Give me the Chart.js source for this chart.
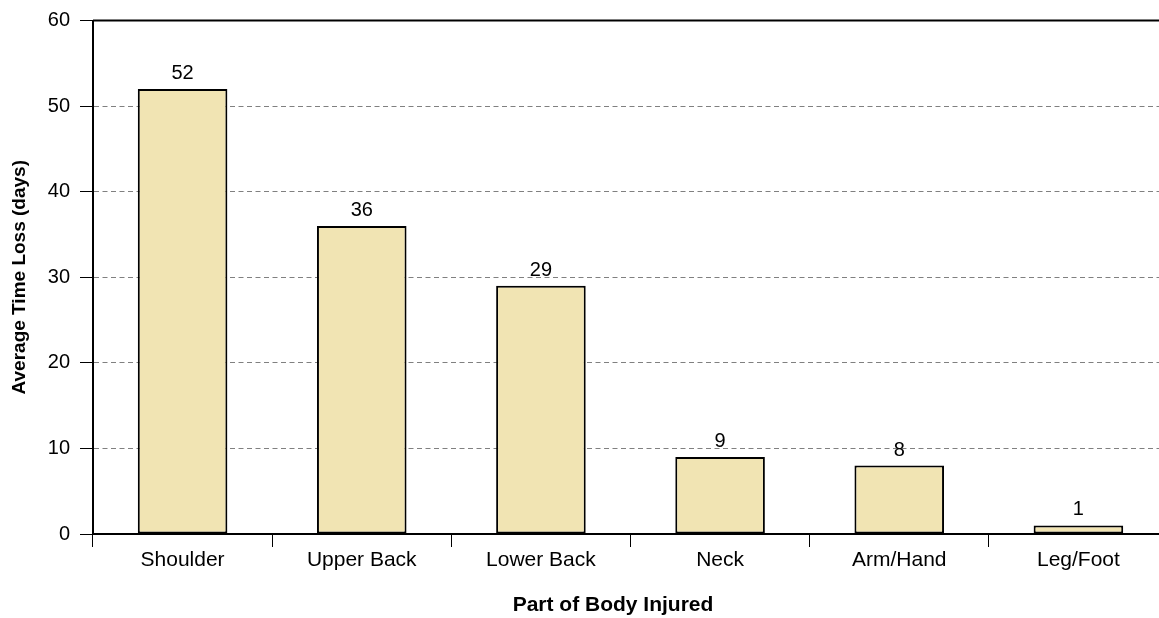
<!DOCTYPE html>
<html>
<head>
<meta charset="utf-8">
<title>Average Time Loss by Part of Body Injured</title>
<script src="https://cdn.jsdelivr.net/npm/chart.js@4.4.1/dist/chart.umd.min.js"></script>
<style>
  html, body { margin: 0; padding: 0; background: #ffffff; overflow: hidden; }
  #wrap { width: 1159px; height: 618px; overflow: hidden; position: relative; }
  #chart { display: block; }
</style>
</head>
<body>
<div id="wrap"><canvas id="chart" width="1180" height="618"></canvas></div>
<script>
// Average days lost, by injured body part
const bodyParts = ['Shoulder', 'Upper Back', 'Lower Back', 'Neck', 'Arm/Hand', 'Leg/Foot'];
const avgDaysLost = [52, 36, 29, 9, 8, 1];
const yTicks = [0, 10, 20, 30, 40, 50, 60];
const xTitle = 'Part of Body Injured';
const yTitle = 'Average Time Loss (days)';

const FONT = '"Liberation Sans", Arial, Helvetica, sans-serif';

// Writes each bar's value just above it
const valueLabels = {
  id: 'valueLabels',
  afterDatasetsDraw(chart) {
    const ctx = chart.ctx;
    const meta = chart.getDatasetMeta(0);
    const values = chart.data.datasets[0].data;
    ctx.save();
    ctx.font = '20px ' + FONT;
    ctx.fillStyle = '#000000';
    ctx.textAlign = 'center';
    ctx.textBaseline = 'alphabetic';
    meta.data.forEach((bar, i) => {
      ctx.fillText(String(values[i]), bar.x, bar.y - 10);
    });
    ctx.restore();
  }
};

// Closes the plot area with a frame line along the top and right,
// and writes the category-axis title under the labels
const plotFrame = {
  id: 'plotFrame',
  afterDraw(chart) {
    const { ctx, chartArea: a } = chart;
    ctx.save();
    ctx.strokeStyle = '#000000';
    ctx.lineWidth = 2;
    ctx.beginPath();
    ctx.moveTo(a.left, a.top);
    ctx.lineTo(a.right, a.top);
    ctx.lineTo(a.right, a.bottom);
    ctx.stroke();

    ctx.font = 'bold 21px ' + FONT;
    ctx.fillStyle = '#000000';
    ctx.textAlign = 'center';
    ctx.textBaseline = 'middle';
    ctx.fillText(xTitle, 613, 605);
    ctx.restore();
  }
};

new Chart(document.getElementById('chart'), {
  type: 'bar',
  data: {
    labels: bodyParts,
    datasets: [{
      data: avgDaysLost,
      backgroundColor: '#F1E4B3',
      borderColor: '#000000',
      borderWidth: 2,
      borderSkipped: false,
      categoryPercentage: 1.0,
      barPercentage: 0.5
    }]
  },
  options: {
    responsive: false,
    devicePixelRatio: 1,
    animation: false,
    layout: { padding: { left: 0, right: 12, top: 20.5, bottom: 0 } },
    plugins: {
      legend: { display: false },
      tooltip: { enabled: false }
    },
    scales: {
      x: {
        offset: true,
        grid: {
          display: true,
          drawOnChartArea: false,
          offset: true,
          tickLength: 13,
          tickColor: '#000000',
          tickWidth: 1
        },
        border: { display: true, color: '#000000', width: 2 },
        ticks: {
          color: '#000000',
          font: { family: FONT, size: 21 },
          padding: 1,
          maxRotation: 0,
          autoSkip: false
        },
        title: { display: false },
        afterFit(scale) { scale.height = 84; }
      },
      y: {
        min: 0,
        max: 60,
        afterBuildTicks(scale) { scale.ticks = yTicks.map(v => ({ value: v })); },
        grid: {
          color: '#808080',
          lineWidth: 1,
          tickLength: 13,
          tickColor: '#000000',
          tickWidth: 1,
          tickBorderDash: []
        },
        border: { display: true, color: '#000000', width: 2, dash: [5, 3.5] },
        ticks: {
          color: '#000000',
          font: { family: FONT, size: 20 },
          padding: 10
        },
        title: {
          display: true,
          text: yTitle,
          color: '#000000',
          font: { family: FONT, size: 19, weight: 'bold' },
          padding: { top: 8, bottom: 0 }
        },
        afterFit(scale) {
          scale.width = 93;
          scale.paddingTop = 0;
          scale.paddingBottom = 0;
        }
      }
    }
  },
  plugins: [valueLabels, plotFrame]
});
</script>
</body>
</html>
